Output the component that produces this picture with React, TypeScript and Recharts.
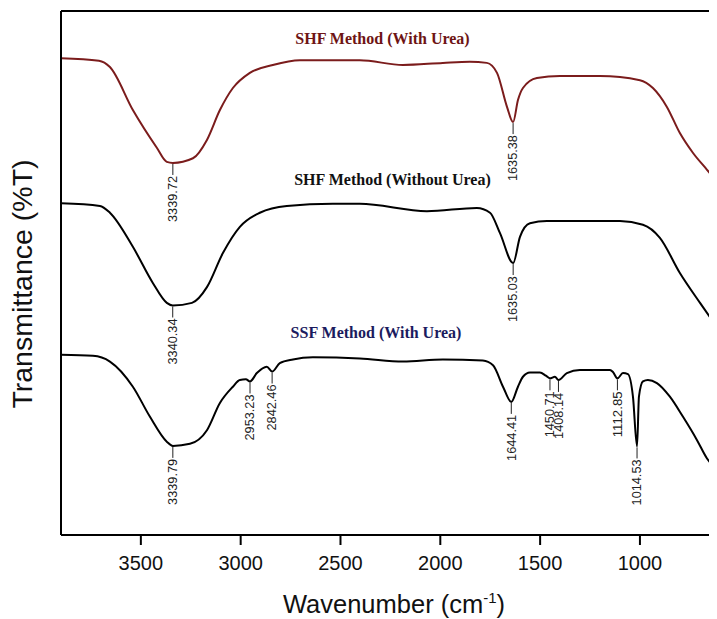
import React from 'react';
import { ComposedChart, Line, XAxis, YAxis, ReferenceLine } from 'recharts';

// wavenumber (cm-1) and transmittance (arbitrary, offset per trace)
const shfUreaWave = [3900, 3710, 3655, 3540, 3420, 3370, 3339.72, 3239, 3169, 3104, 3039, 2954, 2839, 2703, 2403, 2187, 1987, 1852, 1767, 1716, 1666, 1635.38, 1611, 1586, 1516, 1401, 1200, 1000, 935, 865, 800, 734, 664, 614];
const shfUreaT = [91.0, 90.5, 89.3, 81.1, 73.9, 71.2, 71.0, 71.9, 75.4, 81.1, 85.3, 88.2, 89.7, 90.6, 90.6, 89.7, 90.1, 90.3, 90.1, 88.2, 81.7, 78.8, 83.0, 85.3, 87.2, 87.6, 87.6, 86.8, 85.3, 81.7, 76.7, 72.9, 69.7, 67.4];
const shfUreaPeaks = [3339.72, 1635.38];

const shfNoUreaWave = [3900, 3705, 3655, 3540, 3440, 3370, 3340.34, 3244, 3169, 3089, 3004, 2904, 2769, 2538, 2403, 2067, 1817, 1751, 1701, 1635.03, 1601, 1551, 1466, 1100, 985, 900, 800, 699, 614];
const shfNoUreaT = [63.3, 62.8, 61.5, 55.0, 48.1, 44.3, 43.8, 44.3, 47.3, 53.8, 58.8, 61.5, 62.8, 63.2, 63.2, 61.8, 62.4, 61.5, 57.6, 51.9, 56.9, 59.5, 59.9, 59.9, 59.2, 56.7, 50.0, 44.3, 39.7];
const shfNoUreaPeaks = [3340.34, 1635.03];

const ssfUreaWave = [3900, 3740, 3655, 3540, 3455, 3370, 3339.79, 3254, 3169, 3104, 3039, 3004, 2974, 2953.23, 2919, 2869, 2842.46, 2804, 2738, 2638, 2403, 2187, 1987, 1787, 1736, 1686, 1644.41, 1611, 1586, 1551, 1501, 1471, 1450.71, 1426, 1408.14, 1366, 1301, 1150, 1135, 1112.85, 1085, 1060, 1035, 1014.53, 1005, 985, 960, 915, 850, 785, 714, 664, 614];
const ssfUreaT = [34.4, 34.2, 33.1, 28.3, 22.6, 17.8, 17.0, 17.4, 20.0, 25.2, 28.3, 29.6, 29.7, 29.3, 30.9, 32.1, 31.2, 32.8, 33.5, 33.9, 33.7, 33.1, 33.5, 33.3, 32.4, 28.3, 25.4, 28.3, 30.2, 31.0, 31.0, 30.4, 29.9, 30.2, 29.6, 30.9, 31.5, 31.5, 31.1, 29.9, 30.9, 30.7, 26.4, 16.9, 26.4, 29.3, 29.6, 29.0, 26.4, 22.6, 18.1, 14.6, 12.4];
const ssfUreaPeaks = [3339.79, 2953.23, 2842.46, 1644.41, 1450.71, 1408.14, 1112.85, 1014.53];

const xTicks = [3500, 3000, 2500, 2000, 1500, 1000];

const build = (wave: number[], t: number[], peaks: number[]) =>
    wave.map((w, i) => ({ w, t: t[i], peak: peaks.includes(w) ? w.toFixed(2) : null }));

const shfUrea = build(shfUreaWave, shfUreaT, shfUreaPeaks);
const shfNoUrea = build(shfNoUreaWave, shfNoUreaT, shfNoUreaPeaks);
const ssfUrea = build(ssfUreaWave, ssfUreaT, ssfUreaPeaks);

const SANS = '"Liberation Sans", Arial, sans-serif';
const SERIF = '"Liberation Serif", "Times New Roman", serif';

const PeakDot = (props: any) => {
    const { cx, cy, payload, index } = props;
    if (!payload || !payload.peak) return <g key={`d${index}`} />;
    return (
        <g key={`p${index}`}>
            <line x1={cx} y1={cy + 1} x2={cx} y2={cy + 12} stroke="#222" strokeWidth={1} />
            <text
                transform={`translate(${cx + 4.3},${cy + 13}) rotate(-90)`}
                textAnchor="end" fontSize={12} fill="#222" fontFamily={SANS}
                textLength={46} lengthAdjust="spacingAndGlyphs"
            >
                {payload.peak}
            </text>
        </g>
    );
};

const W = 709;
const H = 611;

export default function App() {
    return (
        <div style={{ position: 'relative', width: W, height: H }}>
            <ComposedChart width={W} height={H} margin={{ top: 3, right: 0, left: 0, bottom: 0 }}>
                <XAxis
                    type="number" dataKey="w" domain={[614, 3900]} reversed allowDataOverflow
                    ticks={xTicks} height={84} tickSize={10} tickMargin={11}
                    axisLine={{ stroke: '#000', strokeWidth: 2 }}
                    tickLine={{ stroke: '#000', strokeWidth: 2 }}
                    tick={{ fill: '#111', fontSize: 20, fontFamily: SANS }}
                />
                <YAxis
                    type="number" domain={[0, 100]} width={53} tick={false} tickLine={false}
                    axisLine={{ stroke: '#000', strokeWidth: 2 }}
                />
                <ReferenceLine y={100} stroke="#000" strokeWidth={2} />
                <Line
                    data={shfUrea} dataKey="t" type="monotone" stroke="#7b1c1c" strokeWidth={2}
                    dot={PeakDot} activeDot={false} isAnimationActive={false}
                />
                <Line
                    data={shfNoUrea} dataKey="t" type="monotone" stroke="#000" strokeWidth={2}
                    dot={PeakDot} activeDot={false} isAnimationActive={false}
                />
                <Line
                    data={ssfUrea} dataKey="t" type="monotone" stroke="#000" strokeWidth={2}
                    dot={PeakDot} activeDot={false} isAnimationActive={false}
                />
            </ComposedChart>
            {/* overlay in page coordinates */}
            <svg width={717} height={619} style={{ position: 'absolute', left: -8, top: -8, pointerEvents: 'none' }}>
                <text x={382.5} y={44} textAnchor="middle" fontSize={16} fontWeight="bold" fontFamily={SERIF} fill="#6e1414">
                    SHF Method (With Urea)
                </text>
                <text x={392.5} y={185} textAnchor="middle" fontSize={16} fontWeight="bold" fontFamily={SERIF} fill="#111">
                    SHF Method (Without Urea)
                </text>
                <text x={376} y={338.3} textAnchor="middle" fontSize={16} fontWeight="bold" fontFamily={SERIF} fill="#1b1b5e">
                    SSF Method (With Urea)
                </text>
                <text transform="translate(32.3,284) rotate(-90)" textAnchor="middle" fontSize={28.5} fontFamily={SANS} fill="#111">
                    Transmittance (%T)
                </text>
                <text x={394} y={612.5} textAnchor="middle" fontSize={25.5} fontFamily={SANS} fill="#111">
                    Wavenumber (cm<tspan dy={-10} fontSize={15}>-1</tspan><tspan dy={10}>)</tspan>
                </text>
            </svg>
        </div>
    );
}
